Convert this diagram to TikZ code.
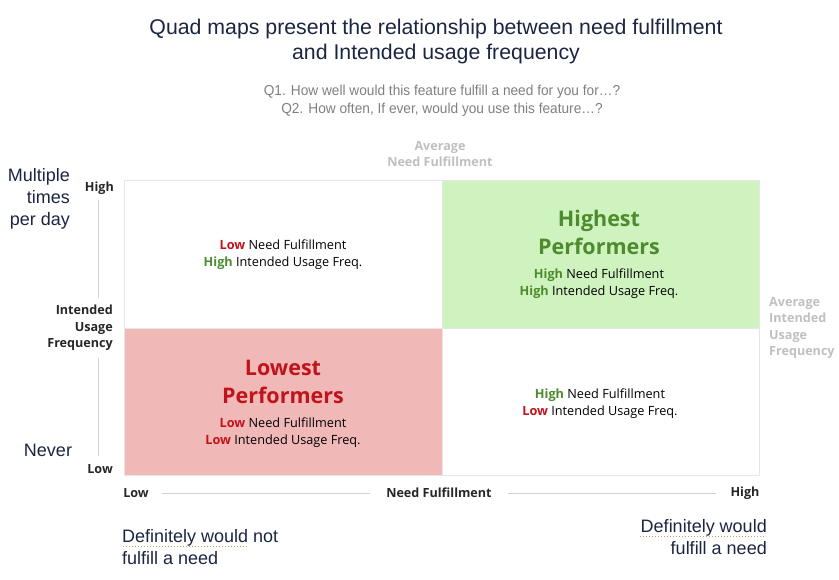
\documentclass[tikz,border=0pt]{standalone}
\usepackage{fontspec}
\setmainfont{Liberation Sans}
\newfontfamily\lab{Open Sans}
\newfontfamily\narrow[FakeStretch=0.95]{Liberation Sans}
\definecolor{navy}{HTML}{1B2541}
\definecolor{subgray}{HTML}{7F7F7F}
\definecolor{lightlab}{HTML}{BFBFBF}
\definecolor{axistxt}{HTML}{262626}
\definecolor{qgreen}{HTML}{CFF3BE}
\definecolor{qpink}{HTML}{F1B8B8}
\definecolor{hgreen}{HTML}{4E8A2E}
\definecolor{lred}{HTML}{C0141C}
\definecolor{frame}{HTML}{E6E6E6}
\definecolor{axline}{HTML}{D0D0D0}
\definecolor{spell}{HTML}{C9A15A}
\newcommand{\hi}{\textcolor{hgreen}{\bfseries High}}
\newcommand{\lo}{\textcolor{lred}{\bfseries Low}}
\tikzset{
  quad/.style={draw=frame, line width=0.8pt},
  qtext/.style={align=center, font=\lab\fontsize{12.7}{17}\selectfont, text=black, inner sep=0pt},
  qhead/.style={align=center, font=\lab\bfseries\fontsize{21.5}{28}\selectfont, inner sep=0pt},
  axlab/.style={font=\lab\bfseries\fontsize{12.6}{16.6}\selectfont, text=axistxt, inner sep=0pt},
  avglab/.style={font=\lab\bfseries\fontsize{12.6}{16.6}\selectfont, text=lightlab, inner sep=0pt},
  side/.style={font=\fontsize{18}{22}\selectfont, text=navy, inner sep=0pt},
  axl/.style={draw=axline, line width=0.8pt},
}
\begin{document}
\begin{tikzpicture}[x=1pt,y=-1pt]
\useasboundingbox (0,0) rectangle (839,580);
% title
\node[font=\fontsize{21.3}{25}\selectfont, text=navy, align=center, inner sep=0pt] (title) at (436,41) {Quad maps present the relationship between need fulfillment\\and Intended usage frequency};
\node[font=\narrow\fontsize{14.4}{18}\selectfont, text=subgray, align=center, inner sep=0pt] (sub) at (442,101) {Q1. How well would this feature fulfill a need for you for…?\\Q2. How often, If ever, would you use this feature…?};
\node[avglab, align=center] (avgnf) at (440,154) {Average\\Need Fulfillment};
% quadrants
\node[quad, minimum width=318pt, minimum height=148pt, anchor=north west] (tl) at (124,180) {};
\node[quad, minimum width=317pt, minimum height=148pt, anchor=north west, fill=qgreen] (tr) at (442,180) {};
\node[quad, minimum width=318pt, minimum height=147pt, anchor=north west, fill=qpink] (bl) at (124,328) {};
\node[quad, minimum width=317pt, minimum height=147pt, anchor=north west] (br) at (442,328) {};
% quadrant texts
\node[qtext] (tltext) at (283,254.5) {\lo{} Need Fulfillment\\\hi{} Intended Usage Freq.};
\node[qhead, text=hgreen] (trhead) at (599,232) {Highest\\Performers};
\node[qtext] (trtext) at (599,284) {\hi{} Need Fulfillment\\\hi{} Intended Usage Freq.};
\node[qhead, text=lred] (blhead) at (283,382) {Lowest\\Performers};
\node[qtext] (bltext) at (283,433) {\lo{} Need Fulfillment\\\lo{} Intended Usage Freq.};
\node[qtext] (brtext) at (600,404) {\hi{} Need Fulfillment\\\lo{} Intended Usage Freq.};
% y axis
\node[axlab, anchor=east] (yhigh) at (114,188) {High};
\node[axlab, align=right, anchor=east] (ymid) at (113,328) {Intended\\Usage\\Frequency};
\node[axlab, anchor=east] (ylow) at (113,469) {Low};
\coordinate (ya1) at (98,200);
\coordinate (ya2) at (98,298);
\coordinate (ya3) at (98,358);
\coordinate (ya4) at (98,456);
\draw[axl] (ya1) -- (ya2);
\draw[axl] (ya3) -- (ya4);
% x axis
\node[axlab] (xlow) at (136,493) {Low};
\node[axlab] (xmid) at (439,493) {Need Fulfillment};
\node[axlab] (xhigh) at (745,493) {High};
\draw[axl] ([xshift=13pt]xlow.east) -- ([xshift=-16pt]xmid.west);
\draw[axl] ([xshift=16pt]xmid.east) -- ([xshift=-14pt]xhigh.west);
% right label
\node[avglab, align=left, anchor=west] (avgiu) at (769,328) {Average\\Intended\\Usage\\Frequency};
% left side labels
\node[side, align=right, anchor=east] (multi) at (70,199) {Multiple\\times\\per day};
\node[side] (never) at (48,450) {Never};
% bottom labels
\node[side, align=left, anchor=west] (defnot) at (122,547.5) {Definitely would not\\fulfill a need};
\node[side, align=right, anchor=east] (defyes) at (767,537.5) {Definitely would\\fulfill a need};
\coordinate (sp1) at (123,546);
\coordinate (sp2) at (248,546);
\coordinate (sp3) at (640,536);
\coordinate (sp4) at (766,536);
\draw[spell, line width=1pt, dotted] (sp1) -- (sp2);
\draw[spell, line width=1pt, dotted] (sp3) -- (sp4);
\end{tikzpicture}
\end{document}
